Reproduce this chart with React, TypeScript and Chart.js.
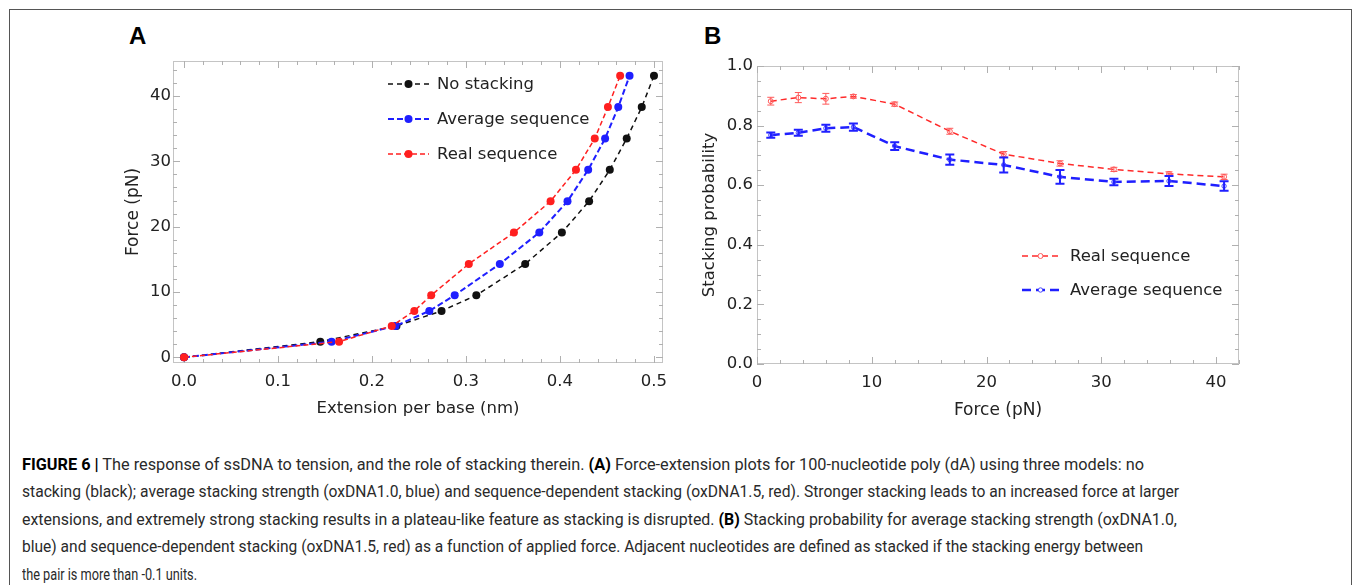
import React, { useEffect, useLayoutEffect, useRef } from "react";
import { Chart, registerables } from "chart.js";

Chart.register(...registerables);

// ---------- Panel A: force-extension ----------
const forcesA = [0, 2.4, 4.8, 7.1, 9.5, 14.3, 19.1, 23.9, 28.7, 33.5, 38.3, 43.1];
const extNoStacking = [0, 0.145, 0.226, 0.274, 0.311, 0.363, 0.402, 0.431, 0.453, 0.471, 0.487, 0.5];
const extAverage = [0, 0.157, 0.225, 0.261, 0.288, 0.336, 0.378, 0.408, 0.43, 0.448, 0.462, 0.474];
const extReal = [0, 0.165, 0.221, 0.245, 0.263, 0.303, 0.351, 0.39, 0.417, 0.437, 0.451, 0.464];
const labelsA = ["No stacking", "Average sequence", "Real sequence"];

// ---------- Panel B: stacking probability ----------
const forcesB = [1.2, 3.6, 6.0, 8.4, 12.0, 16.8, 21.5, 26.4, 31.1, 35.9, 40.7];
const probReal = [0.882, 0.894, 0.89, 0.898, 0.872, 0.781, 0.704, 0.673, 0.653, 0.638, 0.628];
const errReal = [0.013, 0.017, 0.018, 0.006, 0.007, 0.01, 0.009, 0.009, 0.007, 0.007, 0.009];
const probAverage = [0.768, 0.776, 0.791, 0.795, 0.731, 0.686, 0.668, 0.628, 0.611, 0.614, 0.597];
const errAverage = [0.009, 0.01, 0.012, 0.012, 0.013, 0.017, 0.025, 0.023, 0.011, 0.017, 0.016];
const labelsB = ["Real sequence", "Average sequence"];

// ---------- Caption ----------
const captionLines: { b?: boolean; t: string }[][] = [
  [
    { b: true, t: "FIGURE 6 |" },
    { t: " The response of ssDNA to tension, and the role of stacking therein. " },
    { b: true, t: "(A)" },
    { t: " Force-extension plots for 100-nucleotide poly (dA) using three models: no" },
  ],
  [
    {
      t: "stacking (black); average stacking strength (oxDNA1.0, blue) and sequence-dependent stacking (oxDNA1.5, red). Stronger stacking leads to an increased force at larger",
    },
  ],
  [
    { t: "extensions, and extremely strong stacking results in a plateau-like feature as stacking is disrupted. " },
    { b: true, t: "(B)" },
    { t: " Stacking probability for average stacking strength (oxDNA1.0," },
  ],
  [
    {
      t: "blue) and sequence-dependent stacking (oxDNA1.5, red) as a function of applied force. Adjacent nucleotides are defined as stacked if the stacking energy between",
    },
  ],
  [{ t: "the pair is more than -0.1 units." }],
];
const captionEnds = [1144, 1179, 1177, 1143, 197];

const FONT = "'DejaVu Sans', 'Noto Sans', sans-serif";
const TXT = "#222";

function framePlugin(xMinor: number, xMajor: number, yMinor: number, yMajor: number) {
  return {
    id: "frameTicks",
    beforeDatasetsDraw(chart: any) {
      const { ctx, chartArea } = chart;
      const { left, right, top, bottom } = chartArea;
      const xs = chart.scales.x;
      const ys = chart.scales.y;
      ctx.save();
      ctx.strokeStyle = "#c4c4c4";
      ctx.lineWidth = 1;
      ctx.strokeRect(Math.round(left) + 0.5, Math.round(top) + 0.5, Math.round(right - left) - 1, Math.round(bottom - top) - 1);
      ctx.strokeStyle = "#b0b0b0";
      ctx.beginPath();
      const isMajor = (v: number, major: number) => Math.abs(v / major - Math.round(v / major)) < 1e-6;
      for (let i = Math.ceil(xs.min / xMinor - 1e-9); i * xMinor <= xs.max + 1e-9; i++) {
        const v = i * xMinor;
        const len = isMajor(v, xMajor) ? 7 : 4;
        const px = Math.round(xs.getPixelForValue(v)) + 0.5;
        ctx.moveTo(px, bottom);
        ctx.lineTo(px, bottom - len);
        ctx.moveTo(px, top);
        ctx.lineTo(px, top + len);
      }
      for (let i = Math.ceil(ys.min / yMinor - 1e-9); i * yMinor <= ys.max + 1e-9; i++) {
        const v = i * yMinor;
        const len = isMajor(v, yMajor) ? 7 : 4;
        const py = Math.round(ys.getPixelForValue(v)) + 0.5;
        ctx.moveTo(left, py);
        ctx.lineTo(left + len, py);
        ctx.moveTo(right, py);
        ctx.lineTo(right - len, py);
      }
      ctx.stroke();
      ctx.restore();
    },
  };
}

function errorBarPlugin(errors: (number[] | null)[], styles: { color: string; width: number; cap: number }[]) {
  return {
    id: "errorBars",
    afterDatasetsDraw(chart: any) {
      const { ctx } = chart;
      const ys = chart.scales.y;
      chart.data.datasets.forEach((ds: any, di: number) => {
        const errs = errors[di];
        if (!errs) return;
        const st = styles[di];
        const meta = chart.getDatasetMeta(di);
        ctx.save();
        ctx.strokeStyle = st.color;
        ctx.lineWidth = st.width;
        ctx.setLineDash([]);
        meta.data.forEach((pt: any, j: number) => {
          const v = ds.data[j].y;
          const e = errs[j];
          const y1 = ys.getPixelForValue(v + e);
          const y2 = ys.getPixelForValue(v - e);
          ctx.beginPath();
          ctx.moveTo(pt.x, y1);
          ctx.lineTo(pt.x, y2);
          ctx.moveTo(pt.x - st.cap, y1);
          ctx.lineTo(pt.x + st.cap, y1);
          ctx.moveTo(pt.x - st.cap, y2);
          ctx.lineTo(pt.x + st.cap, y2);
          ctx.stroke();
        });
        ctx.restore();
      });
    },
  };
}

function legendPlugin(entries: { ds: number; x: number; y: number; len: number; textX: number }[]) {
  return {
    id: "customLegend",
    afterDraw(chart: any) {
      const { ctx } = chart;
      ctx.save();
      entries.forEach((en) => {
        const ds = chart.data.datasets[en.ds];
        ctx.strokeStyle = ds.borderColor;
        ctx.lineWidth = ds.borderWidth;
        ctx.setLineDash(ds.borderDash || []);
        ctx.beginPath();
        ctx.moveTo(en.x, en.y);
        ctx.lineTo(en.x + en.len, en.y);
        ctx.stroke();
        ctx.setLineDash([]);
        ctx.beginPath();
        ctx.arc(en.x + en.len / 2, en.y, ds.pointRadius, 0, Math.PI * 2);
        if (ds.pointBackgroundColor && ds.pointBackgroundColor !== "rgba(0,0,0,0)") {
          ctx.fillStyle = ds.pointBackgroundColor;
          ctx.fill();
        } else {
          ctx.fillStyle = "#fff";
          ctx.fill();
          ctx.lineWidth = ds.pointBorderWidth;
          ctx.strokeStyle = ds.pointBorderColor;
          ctx.stroke();
        }
        ctx.fillStyle = TXT;
        ctx.font = `16.5px ${FONT}`;
        ctx.textBaseline = "middle";
        ctx.textAlign = "left";
        ctx.fillText(ds.label, en.textX, en.y + 1);
      });
      ctx.restore();
    },
  };
}

const pts = (xs: number[], ys: number[]) => xs.map((x, i) => ({ x, y: ys[i] }));

function axis(
  min: number,
  max: number,
  step: number,
  fmt: (v: number) => string,
  title: string,
  titleSize: number,
  titlePad: any,
  fit: (s: any) => void,
  tickPad: number
) {
  return {
    type: "linear" as const,
    min,
    max,
    grid: { display: false, drawTicks: false },
    border: { display: false },
    ticks: {
      stepSize: step,
      includeBounds: false,
      autoSkip: false,
      maxRotation: 0,
      padding: tickPad,
      color: TXT,
      font: { family: FONT, size: 16.5 },
      callback: (v: any) => fmt(Number(v)),
    },
    title: { display: true, text: title, color: TXT, font: { family: FONT, size: titleSize }, padding: titlePad },
    afterFit: fit,
  };
}

export default function App() {
  const refA = useRef<HTMLCanvasElement>(null);
  const refB = useRef<HTMLCanvasElement>(null);
  const lineRefs = useRef<(HTMLDivElement | null)[]>([]);

  useEffect(() => {
    const chartA = new Chart(refA.current as HTMLCanvasElement, {
      type: "scatter",
      data: {
        datasets: [
          {
            label: labelsA[2],
            data: pts(extReal, forcesA),
            showLine: true,
            borderColor: "#ff1f1f",
            backgroundColor: "#ff1f1f",
            pointBackgroundColor: "#ff1f1f",
            pointBorderColor: "#ff1f1f",
            pointBorderWidth: 0,
            pointRadius: 4,
            borderWidth: 1.5,
            borderDash: [5, 3],
          },
          {
            label: labelsA[1],
            data: pts(extAverage, forcesA),
            showLine: true,
            borderColor: "#1f1fff",
            backgroundColor: "#1f1fff",
            pointBackgroundColor: "#1f1fff",
            pointBorderColor: "#1f1fff",
            pointBorderWidth: 0,
            pointRadius: 4,
            borderWidth: 2,
            borderDash: [6, 3],
          },
          {
            label: labelsA[0],
            data: pts(extNoStacking, forcesA),
            showLine: true,
            borderColor: "#111111",
            backgroundColor: "#111111",
            pointBackgroundColor: "#111111",
            pointBorderColor: "#111111",
            pointBorderWidth: 0,
            pointRadius: 4,
            borderWidth: 1.5,
            borderDash: [5, 4],
          },
        ] as any,
      },
      options: {
        animation: false,
        responsive: false,
        maintainAspectRatio: false,
        layout: { padding: { left: 0, top: 21, right: 37, bottom: 0 } },
        plugins: { legend: { display: false }, tooltip: { enabled: false } },
        scales: {
          x: axis(-0.0117, 0.5096, 0.1, (v) => v.toFixed(1), "Extension per base (nm)", 16.5, { top: 0, bottom: 21 }, (s) => {
            s.height = 77;
          }, 9),
          y: axis(-0.87, 45.36, 10, (v) => String(Math.round(v)), "Force (pN)", 17, { top: 23, bottom: 0 }, (s) => {
            s.width = 73;
          }, 2),
        } as any,
      },
      plugins: [
        framePlugin(0.02, 0.1, 2, 10),
        legendPlugin([
          { ds: 2, x: 288, y: 44, len: 41, textX: 337 },
          { ds: 1, x: 288, y: 79, len: 41, textX: 337 },
          { ds: 0, x: 288, y: 114, len: 41, textX: 337 },
        ]),
      ],
    });

    const chartB = new Chart(refB.current as HTMLCanvasElement, {
      type: "scatter",
      data: {
        datasets: [
          {
            label: labelsB[0],
            data: pts(forcesB, probReal),
            showLine: true,
            borderColor: "#ff2a2a",
            backgroundColor: "rgba(0,0,0,0)",
            pointBackgroundColor: "rgba(0,0,0,0)",
            pointBorderColor: "#ff5a5a",
            pointBorderWidth: 1,
            pointRadius: 2.5,
            borderWidth: 1.5,
            borderDash: [6, 4],
          },
          {
            label: labelsB[1],
            data: pts(forcesB, probAverage),
            showLine: true,
            borderColor: "#1f1fff",
            backgroundColor: "rgba(0,0,0,0)",
            pointBackgroundColor: "rgba(0,0,0,0)",
            pointBorderColor: "#4a4aff",
            pointBorderWidth: 1,
            pointRadius: 2.2,
            borderWidth: 2.5,
            borderDash: [9, 5],
          },
        ] as any,
      },
      options: {
        animation: false,
        responsive: false,
        maintainAspectRatio: false,
        layout: { padding: { left: 0, top: 26, right: 41, bottom: 0 } },
        plugins: { legend: { display: false }, tooltip: { enabled: false } },
        scales: {
          x: axis(0, 42, 10, (v) => String(Math.round(v)), "Force (pN)", 17, { top: 0, bottom: 19 }, (s) => {
            s.height = 76;
          }, 9),
          y: axis(0, 1, 0.2, (v) => v.toFixed(1), "Stacking probability", 16.5, { top: 20, bottom: 0 }, (s) => {
            s.width = 77;
          }, 4),
        } as any,
      },
      plugins: [
        framePlugin(2, 10, 0.05, 0.2),
        errorBarPlugin(
          [errReal, errAverage],
          [
            { color: "#ff5a5a", width: 1, cap: 3.5 },
            { color: "#1f1fff", width: 2, cap: 4.5 },
          ]
        ),
        legendPlugin([
          { ds: 0, x: 342, y: 216, len: 37, textX: 390 },
          { ds: 1, x: 342, y: 250, len: 37, textX: 390 },
        ]),
      ],
    });

    return () => {
      chartA.destroy();
      chartB.destroy();
    };
  }, []);

  useLayoutEffect(() => {
    lineRefs.current.forEach((el, i) => {
      const end = captionEnds[i];
      if (!el || end == null) return;
      el.style.transform = "none";
      const w = el.getBoundingClientRect().width;
      if (w > 0) el.style.transform = `scaleX(${(end - 22) / w})`;
    });
  }, []);

  return (
    <div
      style={{
        position: "fixed",
        left: 0,
        top: 0,
        width: 1355,
        height: 585,
        background: "#fff",
        overflow: "hidden",
      }}
    >
      <div
        style={{
          position: "absolute",
          left: 9,
          top: 9,
          width: 1343,
          height: 640,
          border: "1px solid #555",
          boxSizing: "border-box",
        }}
      />
      <div
        style={{
          position: "absolute",
          left: 129,
          top: 24,
          font: "bold 24px 'Liberation Sans', Arial, sans-serif",
          lineHeight: 1,
          color: "#000",
        }}
      >
        A
      </div>
      <div
        style={{
          position: "absolute",
          left: 704,
          top: 24,
          font: "bold 24px 'Liberation Sans', Arial, sans-serif",
          lineHeight: 1,
          color: "#000",
        }}
      >
        B
      </div>
      <canvas ref={refA} width={600} height={400} style={{ position: "absolute", left: 100, top: 40 }} />
      <canvas ref={refB} width={600} height={400} style={{ position: "absolute", left: 680, top: 40 }} />
      {captionLines.map((line, i) => (
        <div
          key={i}
          ref={(el) => {
            lineRefs.current[i] = el;
          }}
          style={{
            position: "absolute",
            left: 22,
            top: 451 + i * 27.4,
            whiteSpace: "pre",
            font: "16px Roboto, 'Noto Sans', sans-serif",
            lineHeight: "27.5px",
            transformOrigin: "0 50%",
            color: "#2a2a2a",
          }}
        >
          {line.map((seg, j) => (
            <span key={j} style={{ fontWeight: seg.b ? 700 : 400, color: seg.b ? "#000" : undefined }}>
              {seg.t}
            </span>
          ))}
        </div>
      ))}
    </div>
  );
}
